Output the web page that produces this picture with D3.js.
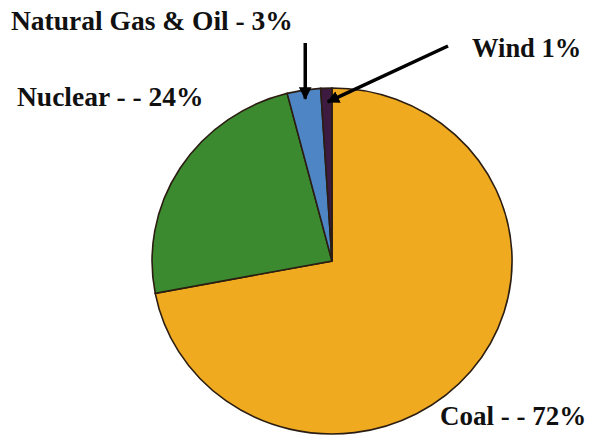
<!DOCTYPE html>
<html>
<head>
<meta charset="utf-8">
<script src="https://cdn.jsdelivr.net/npm/d3@7/dist/d3.min.js"></script>
<style>
  html, body { margin: 0; padding: 0; background: #fff; }
  svg { display: block; }
</style>
</head>
<body>
<svg id="chart" width="589" height="437"></svg>
<script>
// Electricity sources, in drawing order clockwise from 12 o'clock
const sources = ["Coal", "Nuclear", "Natural Gas & Oil", "Wind"];
const shares = [72, 24, 3, 1];
const colors = ["#EFAA20", "#3C8A2F", "#4E85C5", "#3D1A3F"];
const labels = ["Coal - - 72%", "Nuclear - - 24%", "Natural Gas & Oil - 3%", "Wind 1%"];

const svg = d3.select("#chart");
const cx = 332, cy = 261, rx = 180, ry = 173;

const data = sources.map((s, i) => ({ name: s, value: shares[i], color: colors[i] }));
const pie = d3.pie().value(d => d.value).sort(null);
const arc = d3.arc().innerRadius(0).outerRadius(1);
const arcs = pie(data);

// Unit pie stretched into a slight ellipse
const g = svg.append("g")
  .attr("transform", `translate(${cx},${cy}) scale(${rx},${ry})`);

g.selectAll("path")
  .data(arcs)
  .join("path")
  .attr("d", arc)
  .attr("fill", d => d.data.color)
  .attr("stroke", "#2b1d12")
  .attr("stroke-width", 1.6)
  .attr("vector-effect", "non-scaling-stroke");

// Arrow marker
svg.append("defs").append("marker")
  .attr("id", "head")
  .attr("viewBox", "0 0 10 10")
  .attr("refX", 9).attr("refY", 5)
  .attr("markerWidth", 3.6).attr("markerHeight", 3.6)
  .attr("orient", "auto")
  .append("path")
  .attr("d", "M0,0 L10,5 L0,10 Z")
  .attr("fill", "#000");

// Point inside the pie edge at the middle of a given slice (arrow targets)
function edgePoint(i, frac) {
  const a = (arcs[i].startAngle + arcs[i].endAngle) / 2;
  return [cx + Math.sin(a) * rx * frac, cy - Math.cos(a) * ry * frac];
}

const gasTip = edgePoint(2, 0.95);
const windTip = edgePoint(3, 0.92);

svg.append("line")
  .attr("x1", gasTip[0]).attr("y1", 43)
  .attr("x2", gasTip[0]).attr("y2", gasTip[1])
  .attr("stroke", "#000").attr("stroke-width", 3.5)
  .attr("marker-end", "url(#head)");

svg.append("line")
  .attr("x1", 448).attr("y1", 46)
  .attr("x2", windTip[0] + 1).attr("y2", windTip[1])
  .attr("stroke", "#000").attr("stroke-width", 3.5)
  .attr("marker-end", "url(#head)");

// Labels
const labelPos = [
  { x: 440, y: 425, size: 27 },
  { x: 17, y: 106, size: 27.5 },
  { x: 11, y: 30, size: 27.5 },
  { x: 472, y: 57, size: 26.5 }
];
svg.selectAll("text.lbl")
  .data(labels)
  .join("text")
  .attr("class", "lbl")
  .attr("x", (d, i) => labelPos[i].x)
  .attr("y", (d, i) => labelPos[i].y)
  .attr("font-family", "'Liberation Serif', Tinos, 'DejaVu Serif', serif")
  .attr("font-weight", "bold")
  .attr("font-size", (d, i) => labelPos[i].size)
  .attr("fill", "#111")
  .text(d => d);
</script>
</body>
</html>
